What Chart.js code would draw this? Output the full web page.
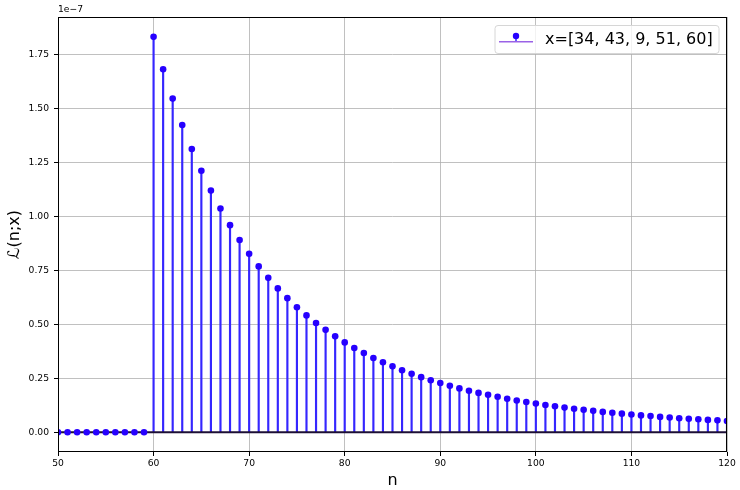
<!DOCTYPE html>
<html>
<head>
<meta charset="utf-8">
<script src="https://cdn.jsdelivr.net/npm/chart.js@4"></script>
<style>
html,body{margin:0;padding:0;background:#fff;}
#wrap{width:740px;height:490px;position:relative;}
</style>
</head>
<body>
<div id="wrap"><canvas id="c" width="740" height="490"></canvas></div>
<script>
// ---- data ----
const nValues = [50,51,52,53,54,55,56,57,58,59,60,61,62,63,64,65,66,67,68,69,70,71,72,73,74,75,76,77,78,79,80,81,82,83,84,85,86,87,88,89,90,91,92,93,94,95,96,97,98,99,100,101,102,103,104,105,106,107,108,109,110,111,112,113,114,115,116,117,118,119,120];
const likelihood = [0,0,0,0,0,0,0,0,0,0,
  1.831e-7,1.681e-7,1.545e-7,1.423e-7,1.312e-7,1.211e-7,1.119e-7,1.036e-7,0.959e-7,0.890e-7,
  0.826e-7,0.768e-7,0.715e-7,0.666e-7,0.621e-7,0.579e-7,0.541e-7,0.506e-7,0.474e-7,0.444e-7,
  0.416e-7,0.390e-7,0.367e-7,0.344e-7,0.324e-7,0.305e-7,0.287e-7,0.271e-7,0.255e-7,0.241e-7,
  0.228e-7,0.215e-7,0.203e-7,0.192e-7,0.182e-7,0.173e-7,0.164e-7,0.155e-7,0.147e-7,0.140e-7,
  0.133e-7,0.126e-7,0.120e-7,0.114e-7,0.109e-7,0.104e-7,0.099e-7,0.094e-7,0.090e-7,0.086e-7,
  0.082e-7,0.078e-7,0.075e-7,0.071e-7,0.068e-7,0.065e-7,0.062e-7,0.060e-7,0.057e-7,0.055e-7,
  0.052e-7];
const xTicks = [50,60,70,80,90,100,110,120];
const yTicks = [0,0.25e-7,0.5e-7,0.75e-7,1.0e-7,1.25e-7,1.5e-7,1.75e-7];
const seriesLabel = 'x=[34, 43, 9, 51, 60]';
const xTitle = 'n';
const yTitle = 'ℒ(n;x)';
const offsetText = '1e\u22127';
const yScaleFactor = 1e-7;

// ---- styling ----
const FONT = 'DejaVu Sans';
const markerColor = '#2600ff';
const stemColor = '#3526ff';
const baseColor = '#1c0f36';
const legendLineColor = '#9a62e6';

const pts = nValues.map((n, i) => ({x: n, y: likelihood[i]}));

const decor = {
  id: 'decor',
  afterDraw(chart) {
    const ctx = chart.ctx, a = chart.chartArea;
    ctx.save();
    // spines
    ctx.strokeStyle = '#000';
    ctx.lineWidth = 1;
    ctx.strokeRect(a.left + 0.5, a.top + 0.5, a.right - a.left - 1, a.bottom - a.top - 1);
    // offset text
    ctx.fillStyle = '#000';
    ctx.font = '9.2px "' + FONT + '"';
    ctx.textAlign = 'left';
    ctx.textBaseline = 'middle';
    ctx.fillText(offsetText, a.left, 10);
    // legend
    const bx = 495, by = 25.5, bw = 224, bh = 28, r = 3;
    ctx.beginPath();
    ctx.moveTo(bx + r, by);
    ctx.lineTo(bx + bw - r, by);
    ctx.quadraticCurveTo(bx + bw, by, bx + bw, by + r);
    ctx.lineTo(bx + bw, by + bh - r);
    ctx.quadraticCurveTo(bx + bw, by + bh, bx + bw - r, by + bh);
    ctx.lineTo(bx + r, by + bh);
    ctx.quadraticCurveTo(bx, by + bh, bx, by + bh - r);
    ctx.lineTo(bx, by + r);
    ctx.quadraticCurveTo(bx, by, bx + r, by);
    ctx.closePath();
    ctx.fillStyle = 'rgba(255,255,255,0.8)';
    ctx.fill();
    ctx.strokeStyle = '#d6d6d6';
    ctx.lineWidth = 1;
    ctx.stroke();
    // handle
    ctx.strokeStyle = legendLineColor;
    ctx.lineWidth = 1.6;
    ctx.beginPath(); ctx.moveTo(499, 41.8); ctx.lineTo(533, 41.8); ctx.stroke();
    ctx.strokeStyle = stemColor;
    ctx.lineWidth = 1.5;
    ctx.beginPath(); ctx.moveTo(516, 36); ctx.lineTo(516, 41); ctx.stroke();
    ctx.fillStyle = markerColor;
    ctx.beginPath(); ctx.arc(516, 36, 3.2, 0, Math.PI * 2); ctx.fill();
    ctx.fillStyle = '#000';
    ctx.font = '16px "' + FONT + '"';
    ctx.textBaseline = 'middle';
    ctx.fillText(chart.data.datasets[0].label, 545, 39.5);
    ctx.restore();
  }
};

new Chart(document.getElementById('c'), {
  type: 'scatter',
  data: {
    datasets: [
      {
        type: 'scatter',
        label: seriesLabel,
        data: pts,
        pointRadius: 3.3,
        pointHoverRadius: 3.3,
        pointBackgroundColor: markerColor,
        pointBorderWidth: 0,
        showLine: false,
        order: 0
      },
      {
        type: 'line',
        label: 'baseline',
        data: [{x: nValues[0], y: 0}, {x: nValues[nValues.length - 1], y: 0}],
        borderColor: baseColor,
        borderWidth: 2,
        pointRadius: 0,
        fill: false,
        order: 1
      },
      {
        type: 'bar',
        label: 'stems',
        data: pts,
        backgroundColor: stemColor,
        borderWidth: 0,
        barThickness: 1.5,
        order: 2
      }
    ]
  },
  options: {
    responsive: false,
    animation: false,
    events: [],
    layout: {padding: {left: 0, right: 13, top: 17, bottom: 0}},
    plugins: {legend: {display: false}, tooltip: {enabled: false}},
    scales: {
      x: {
        type: 'linear',
        offset: false,
        min: 50, max: 120,
        afterFit: s => { s.height = 38; },
        afterBuildTicks: s => { s.ticks = xTicks.map(v => ({value: v})); },
        grid: {color: '#b0b0b0', lineWidth: 0.8, tickColor: '#000', tickLength: 4, tickWidth: 1, offset: false},
        border: {display: false},
        ticks: {color: '#000', padding: 2, maxRotation: 0, autoSkip: false, font: {family: FONT, size: 9.2}, callback: v => String(v)},
        title: {display: true, text: xTitle, color: '#000', font: {family: FONT, size: 16}, padding: {top: 0, bottom: 0}}
      },
      y: {
        type: 'linear',
        min: -0.0916e-7, max: 1.923e-7,
        afterFit: s => { s.width = 58; },
        afterBuildTicks: s => { s.ticks = yTicks.map(v => ({value: v})); },
        grid: {color: '#b0b0b0', lineWidth: 0.8, tickColor: '#000', tickLength: 4, tickWidth: 1},
        border: {display: false},
        ticks: {color: '#000', padding: 5, font: {family: FONT, size: 9.2}, callback: v => (v / yScaleFactor).toFixed(2)},
        title: {display: true, text: yTitle, color: '#000', font: {family: FONT, size: 16}, padding: {top: 5, bottom: 0}}
      }
    }
  },
  plugins: [decor]
});
</script>
</body>
</html>
